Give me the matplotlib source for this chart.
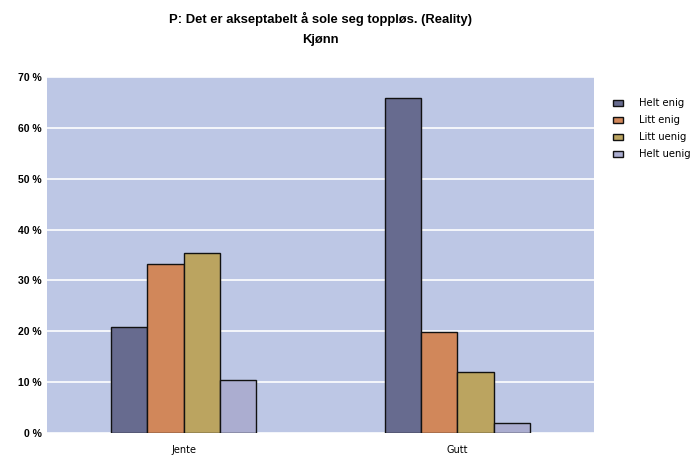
import matplotlib.pyplot as plt
import numpy as np

# data
categories = ["Jente", "Gutt"]
series = ["Helt enig", "Litt enig", "Litt uenig", "Helt uenig"]
helt_enig = [20.8, 65.8]
litt_enig = [33.3, 19.8]
litt_uenig = [35.4, 12.0]
helt_uenig = [10.4, 2.0]
yticks = [0, 10, 20, 30, 40, 50, 60, 70]

colors = ["#676b8f", "#d1875a", "#bba460", "#abadd0"]
values = [helt_enig, litt_enig, litt_uenig, helt_uenig]
narrow = ["Liberation Sans Narrow", "Liberation Sans"]

fig = plt.figure(figsize=(6.96, 4.58), dpi=100)
fig.patch.set_facecolor("white")
ax = fig.add_axes([0.0675, 0.0546, 0.786, 0.777])
ax.set_facecolor("#bdc7e5")

x = np.arange(len(categories))
w = 0.1326
for i, (name, vals) in enumerate(zip(series, values)):
    ax.bar(x + (i - 1.5) * w, vals, w, color=colors[i], edgecolor="#111111",
           linewidth=1.0, label=name, zorder=3)

ax.set_xlim(-0.5, 1.5)
ax.set_ylim(0, 70)
ax.set_yticks(yticks)
ax.set_yticklabels([f"{t} %" for t in yticks], fontsize=7.5, fontweight="bold",
                   family=narrow)
ax.set_xticks(x)
ax.set_xticklabels(categories, fontsize=7)
ax.yaxis.grid(True, color="white", linewidth=1.2, zorder=0)
ax.tick_params(axis="y", length=0, pad=4)
ax.tick_params(axis="x", length=0, pad=9)
for s in ax.spines.values():
    s.set_visible(False)

fig.text(0.461, 0.958, "P: Det er akseptabelt å sole seg toppløs. (Reality)",
         ha="center", va="center", fontsize=9.4, fontweight="bold", family=narrow)
fig.text(0.461, 0.912, "Kjønn", ha="center", va="center", fontsize=9.4,
         fontweight="bold", family=narrow)

leg = ax.legend(loc="upper left", bbox_to_anchor=(1.035, 0.94), frameon=False,
                fontsize=7.2, handlelength=1.0, handleheight=0.65,
                labelspacing=0.7, handletextpad=1.6, borderpad=0,
                borderaxespad=0)

fig.savefig("out.png", dpi=100)
